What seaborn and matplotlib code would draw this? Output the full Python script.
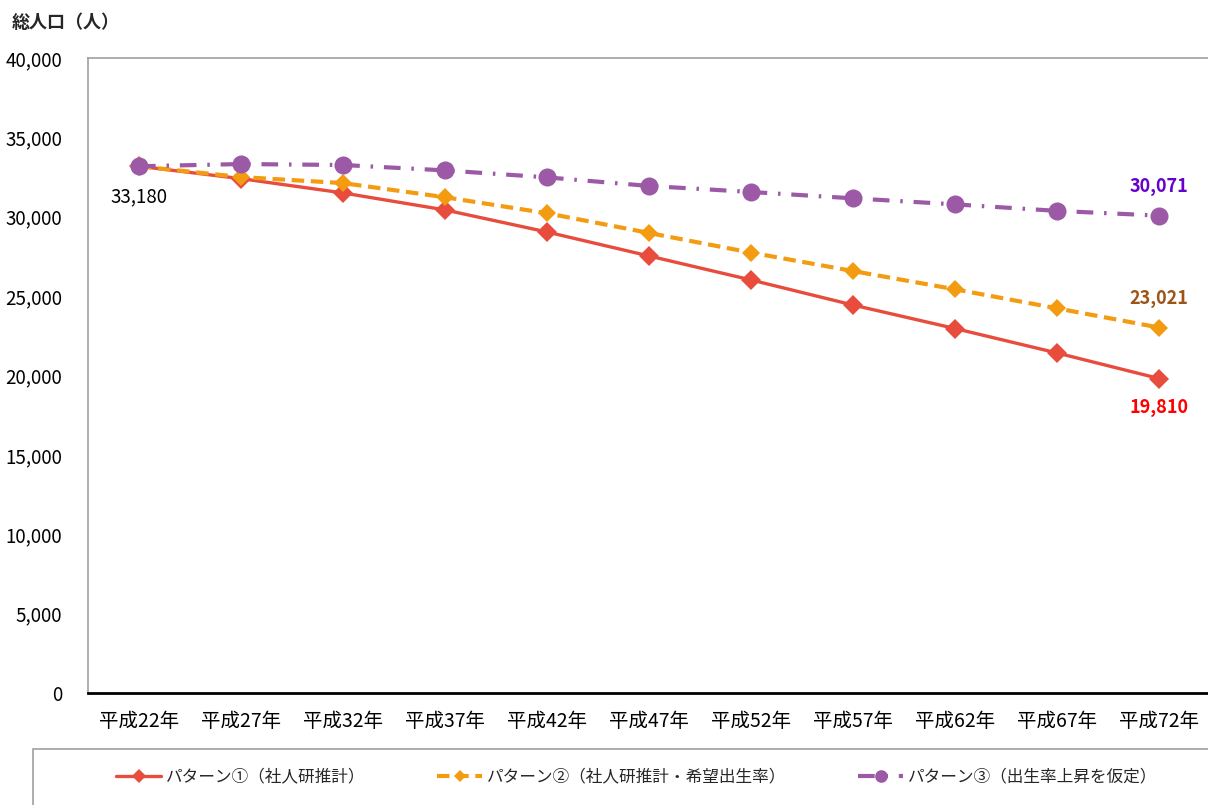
import matplotlib
matplotlib.use("Agg")
import matplotlib.pyplot as plt
import seaborn as sns
import numpy as np
import pandas as pd
from matplotlib.patches import Rectangle

# Census-year categories (Heisei era)
years = ["平成22年", "平成27年", "平成32年", "平成37年", "平成42年", "平成47年",
         "平成52年", "平成57年", "平成62年", "平成67年", "平成72年"]

# Total population projections under three scenarios
pattern1 = [33180, 32400, 31500, 30430, 29040, 27530, 26020, 24440, 22960, 21420, 19810]
pattern2 = [33180, 32500, 32120, 31230, 30220, 28980, 27740, 26580, 25430, 24230, 23021]
pattern3 = [33180, 33320, 33260, 32920, 32480, 31940, 31560, 31160, 30780, 30370, 30071]

labels = ["パターン①（社人研推計）",
          "パターン②（社人研推計・希望出生率）",
          "パターン③（出生率上昇を仮定）"]

yticks = [0, 5000, 10000, 15000, 20000, 25000, 30000, 35000, 40000]

sns.set_theme(style="white")
plt.rcParams["font.family"] = ["Noto Sans CJK JP", "DejaVu Sans"]

W, H = 1208, 805
fig = plt.figure(figsize=(W / 100, H / 100), dpi=100)
ax = fig.add_axes([88 / W, 1 - 693 / H, 1122 / W, 635 / H])

red = "#E74C3C"
orange = "#F39C12"
purple = "#9B59A6"

df = pd.DataFrame({"year": years, "p1": pattern1, "p2": pattern2, "p3": pattern3})

sns.lineplot(data=df, x="year", y="p1", sort=False, ax=ax, color=red,
             linewidth=2.4, marker="D", markersize=10.5,
             markeredgecolor=red, markeredgewidth=0, label=labels[0], zorder=3)
sns.lineplot(data=df, x="year", y="p2", sort=False, ax=ax, color=orange,
             linewidth=3, linestyle=(0, (3, 1.6)), marker="D", markersize=9,
             markeredgecolor=orange, markeredgewidth=0, label=labels[1], zorder=4)
sns.lineplot(data=df, x="year", y="p3", sort=False, ax=ax, color=purple,
             linewidth=3, linestyle=(0, (4, 2.6, 0.6, 2.6)), marker="o", markersize=13,
             markeredgecolor=purple, markeredgewidth=0, label=labels[2], zorder=5)

ax.set_xlim(-0.5, len(years) - 0.5)
ax.set_ylim(0, 40000)
ax.set_yticks(yticks)
ax.set_yticklabels([f"{v:,}" for v in yticks])
ax.set_xlabel("")
ax.set_ylabel("")
ax.tick_params(axis="both", length=0, colors="black")
ax.tick_params(axis="y", pad=18.5, labelsize=13.5)
ax.tick_params(axis="x", pad=13, labelsize=14)
ax.grid(False)

for side in ["left", "top", "right"]:
    ax.spines[side].set_color("#a0a0a0")
    ax.spines[side].set_linewidth(1.2)
ax.spines["bottom"].set_color("black")
ax.spines["bottom"].set_linewidth(2)

# Value labels
last = len(years) - 1
ax.annotate(f"{pattern1[0]:,}", (0, pattern1[0]), xytext=(0, -22), textcoords="offset points",
            ha="center", va="center", fontsize=13.5, color="black")
ax.annotate(f"{pattern3[last]:,}", (last, pattern3[last]), xytext=(0, 21), textcoords="offset points",
            ha="center", va="center", fontsize=13, color="#6600CC", fontweight="bold")
ax.annotate(f"{pattern2[last]:,}", (last, pattern2[last]), xytext=(0, 21), textcoords="offset points",
            ha="center", va="center", fontsize=13, color="#9C5517", fontweight="bold")
ax.annotate(f"{pattern1[last]:,}", (last, pattern1[last]), xytext=(0, -21), textcoords="offset points",
            ha="center", va="center", fontsize=13, color="#FF0000", fontweight="bold")

# Axis title
fig.text(12 / W, 1 - 22 / H, "総人口（人）", ha="left", va="center", fontsize=13, fontweight="bold")

# Legend below the chart
handles, lbls = ax.get_legend_handles_labels()
ax.get_legend().remove()
fig.patches.append(Rectangle((33 / W, -0.2), 1.2, 0.2 + (1 - 749 / H),
                             transform=fig.transFigure, fill=False,
                             edgecolor="#a0a0a0", linewidth=1.2))
fig.legend(handles, lbls, loc="center left", bbox_to_anchor=(101 / W, 1 - 777 / H),
           ncol=3, frameon=False, fontsize=12, handlelength=2.7, handletextpad=0.3,
           columnspacing=4.3, markerscale=0.7)

fig.savefig("out.png", dpi=100)
